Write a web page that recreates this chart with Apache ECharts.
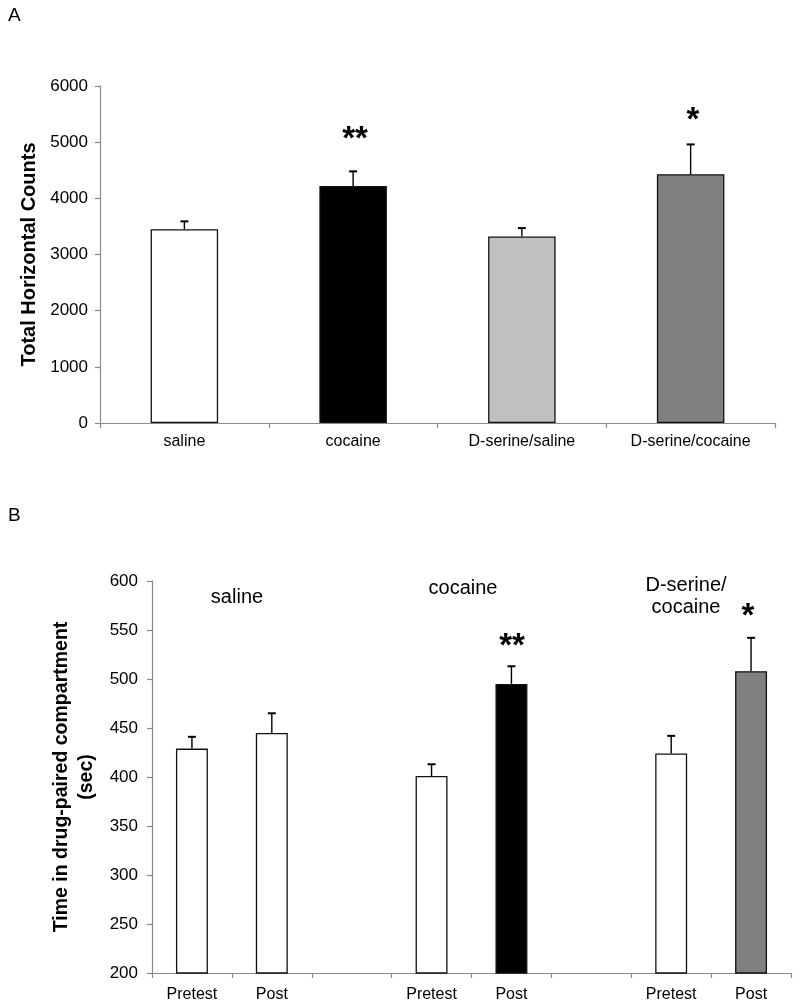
<!DOCTYPE html>
<html><head><meta charset="utf-8">
<script src="https://cdn.jsdelivr.net/npm/echarts@6/dist/echarts.min.js"></script>
<style>html,body{margin:0;padding:0;background:#fff}#c{width:800px;height:1007px}</style>
</head><body><div id="c"></div>
<script>
// Panel A data
const catsA = ['saline', 'cocaine', 'D-serine/saline', 'D-serine/cocaine'];
const valsA = [3450, 4220, 3320, 4430];
const errA = [140, 260, 150, 530];
const colorsA = ['#ffffff', '#000000', '#c0c0c0', '#808080'];
const starsA = ['', '**', '', '*'];
// Panel B data
const catsB = ['Pretest', 'Post', '', 'Pretest', 'Post', '', 'Pretest', 'Post'];
const valsB = [429, 445, null, 401, 495, null, 424, 508];
const errB = [12, 20, null, 12, 18, null, 18, 34];
const colorsB = ['#ffffff', '#ffffff', null, '#ffffff', '#000000', null, '#ffffff', '#808080'];
const starsB = ['', '', '', '', '**', '', '', '*'];
const groupLabelsB = ['saline', 'cocaine', 'D-serine/\ncocaine'];

const FONT = 'Liberation Sans, Arial, sans-serif';
const chart = echarts.init(document.getElementById('c'), null, {renderer: 'canvas'});

function errItem(params, api) {
  const x = api.value(0), y = api.value(1), e = api.value(2);
  const b = api.coord([x, y]);
  const t = api.coord([x, y + e]);
  return {type: 'group', children: [
    {type: 'line', shape: {x1: b[0], y1: b[1], x2: t[0], y2: t[1]}, style: {stroke: '#000', lineWidth: 1.4}},
    {type: 'line', shape: {x1: t[0] - 4, y1: t[1], x2: t[0] + 4, y2: t[1]}, style: {stroke: '#000', lineWidth: 2}}
  ]};
}

const axisLine = {show: true, lineStyle: {color: '#8a8a8a', width: 1.2}};
const tickStyle = {show: true, length: 5, lineStyle: {color: '#8a8a8a', width: 1.2}};
const lab = {color: '#000', fontFamily: FONT, fontSize: 17};

const errDataA = valsA.map((v, i) => [i, v, errA[i]]);
const errDataB = [];
valsB.forEach((v, i) => { if (v != null) errDataB.push([i, v, errB[i]]); });

chart.setOption({
  animation: false,
  backgroundColor: '#fff',
  grid: [
    {left: 100, right: 25, top: 86, bottom: 584},
    {left: 152, right: 9, top: 581, bottom: 34}
  ],
  xAxis: [
    {type: 'category', gridIndex: 0, data: catsA, boundaryGap: true,
     axisLine: axisLine, axisTick: Object.assign({alignWithLabel: false}, tickStyle),
     axisLabel: Object.assign({}, lab, {fontSize: 16, margin: 11, interval: 0})},
    {type: 'category', gridIndex: 1, data: catsB, boundaryGap: true,
     axisLine: axisLine, axisTick: Object.assign({alignWithLabel: false, interval: 0}, tickStyle),
     axisLabel: Object.assign({}, lab, {fontSize: 16, margin: 14, interval: 0})}
  ],
  yAxis: [
    {type: 'value', gridIndex: 0, min: 0, max: 6000, interval: 1000,
     axisLine: axisLine, axisTick: tickStyle, splitLine: {show: false},
     axisLabel: Object.assign({}, lab, {margin: 12, formatter: v => String(v)}),
     name: 'Total Horizontal Counts', nameLocation: 'middle', nameGap: 60,
     nameTextStyle: {fontFamily: FONT, fontSize: 20, fontWeight: 'bold', color: '#000'}},
    {type: 'value', gridIndex: 1, min: 200, max: 600, interval: 50,
     axisLine: axisLine, axisTick: tickStyle, splitLine: {show: false},
     axisLabel: Object.assign({}, lab, {margin: 14, formatter: v => String(v)}),
     name: 'Time in drug-paired compartment\n(sec)', nameLocation: 'middle', nameGap: 52,
     nameTextStyle: {fontFamily: FONT, fontSize: 19.5, fontWeight: 'bold', color: '#000', lineHeight: 25}}
  ],
  series: [
    {type: 'bar', xAxisIndex: 0, yAxisIndex: 0, barWidth: '40%',
     data: valsA.map((v, i) => ({value: v, itemStyle: {color: colorsA[i]}})),
     itemStyle: {borderColor: '#111', borderWidth: 1.3}},
    {type: 'custom', xAxisIndex: 0, yAxisIndex: 0, renderItem: errItem, data: errDataA, z: 3},
    {type: 'bar', xAxisIndex: 1, yAxisIndex: 1, barWidth: '40%',
     data: valsB.map((v, i) => v == null ? null : ({value: v, itemStyle: {color: colorsB[i]}})),
     itemStyle: {borderColor: '#111', borderWidth: 1.3}},
    {type: 'custom', xAxisIndex: 1, yAxisIndex: 1, renderItem: errItem, data: errDataB, z: 3}
  ],
  graphic: [
    {type: 'text', left: 8, top: 6, style: {text: 'A', font: '19px ' + FONT, fill: '#000'}},
    {type: 'text', left: 8, top: 506, style: {text: 'B', font: '19px ' + FONT, fill: '#000'}},
    // stars panel A
    {type: 'text', x: 355, y: 140, style: {text: starsA[1], font: 'bold 33px ' + FONT, fill: '#000', textAlign: 'center', textVerticalAlign: 'middle'}},
    {type: 'text', x: 693, y: 121, style: {text: starsA[3], font: 'bold 33px ' + FONT, fill: '#000', textAlign: 'center', textVerticalAlign: 'middle'}},
    // group labels panel B
    {type: 'text', x: 237, y: 597, style: {text: groupLabelsB[0], font: '20px ' + FONT, fill: '#000', textAlign: 'center', textVerticalAlign: 'middle'}},
    {type: 'text', x: 463, y: 588, style: {text: groupLabelsB[1], font: '20px ' + FONT, fill: '#000', textAlign: 'center', textVerticalAlign: 'middle'}},
    {type: 'text', x: 686, y: 596, style: {text: groupLabelsB[2], font: '20px ' + FONT, fill: '#000', textAlign: 'center', textVerticalAlign: 'middle', lineHeight: 22}},
    // stars panel B
    {type: 'text', x: 512, y: 647, style: {text: starsB[4], font: 'bold 33px ' + FONT, fill: '#000', textAlign: 'center', textVerticalAlign: 'middle'}},
    {type: 'text', x: 748, y: 617, style: {text: starsB[7], font: 'bold 33px ' + FONT, fill: '#000', textAlign: 'center', textVerticalAlign: 'middle'}}
  ]
});
</script>
</body></html>
